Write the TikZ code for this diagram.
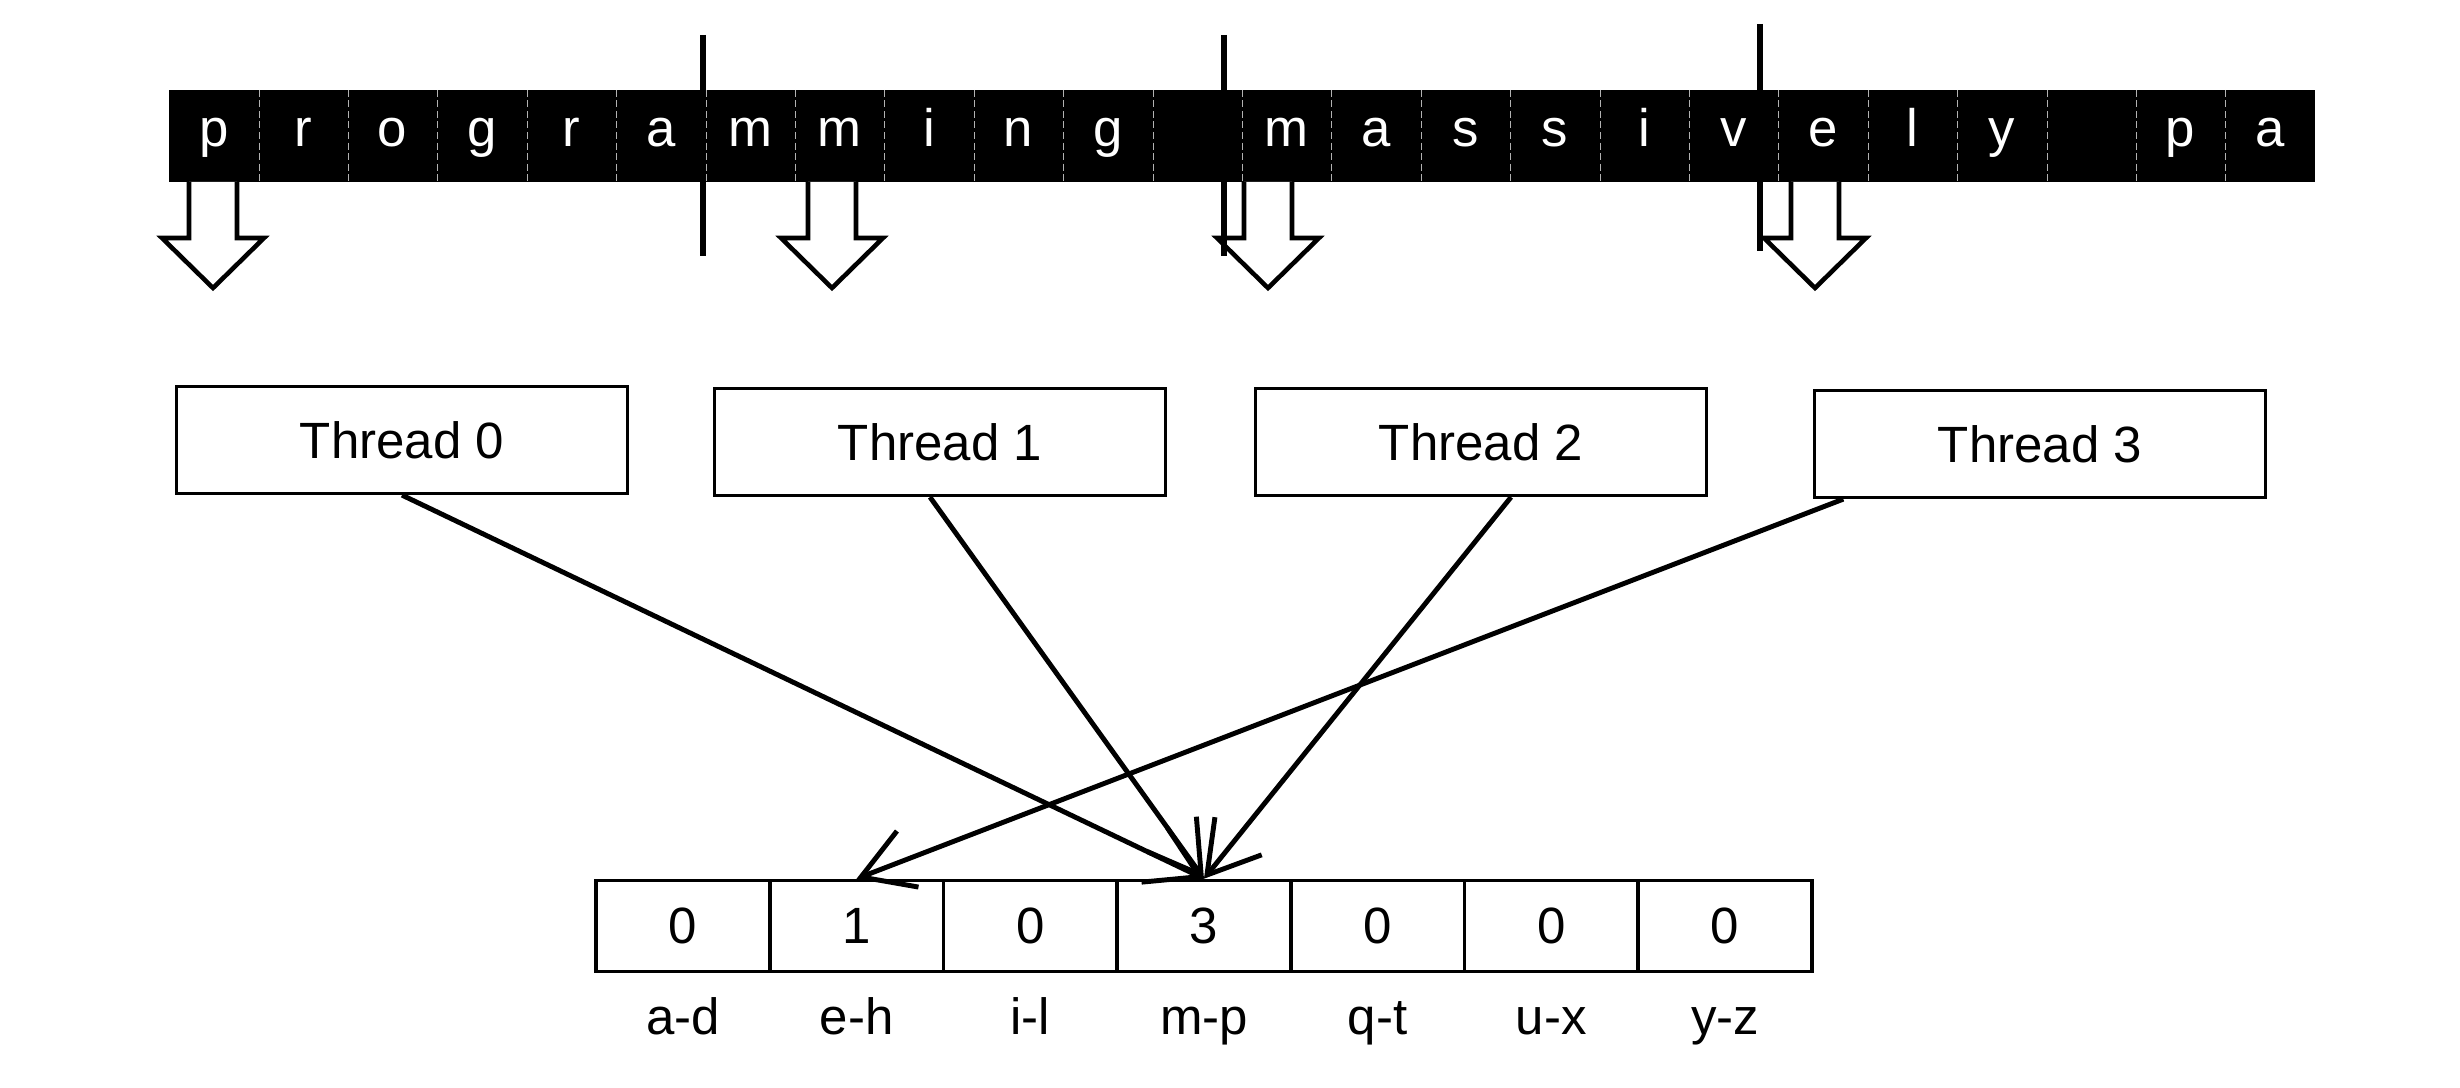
\documentclass[tikz,border=0pt]{standalone}
\usepackage{fontspec}
\setmainfont{Liberation Sans}
\usetikzlibrary{arrows.meta,positioning}

\begin{document}
\begin{tikzpicture}[x=0.01cm,y=-0.01cm,
    chr/.style={fill=black,text=white,minimum width=0.894cm,minimum height=0.91cm,
      inner sep=0pt,text height=1.6ex,text depth=0.45ex,font=\fontsize{15}{17}\selectfont},
    thread/.style={draw,line width=0.9pt,minimum width=4.5cm,minimum height=1.07cm,
      font=\fontsize{14.5}{17}\selectfont},
    count/.style={draw,line width=1pt,minimum width=1.737cm,minimum height=0.91cm,
      inner sep=0pt,font=\fontsize{14.5}{17}\selectfont},
    rangelabel/.style={inner sep=0pt,text height=1.8ex,text depth=0.5ex,font=\fontsize{14.5}{17}\selectfont},
    blockarrow/.style={draw,fill=white,line width=1.3pt,line join=miter},
    cut/.style={line width=1.8pt},
    hit/.style={line width=1.4pt,-{Straight Barb[length=0.5cm,width=0.6cm]}}]

\useasboundingbox (0,0) rectangle (2460,1088);

% input text
\foreach \l [count=\i from 0] in {p,r,o,g,r,a,m,m,i,n,g,{},m,a,s,s,i,v,e,l,y,{},p,a}
  \node[chr] (c\i) at (213.7+89.4*\i,136) {\l};
\foreach \i in {0,...,22}
  \draw[gray!60,line width=0.3pt,dash pattern=on 2pt off 1pt] (c\i.north east) -- (c\i.south east);

% block arrows under the text
\foreach \x in {213,832,1268,1815}
  \draw[blockarrow] (\x-24,182) -- (\x-24,238) -- (\x-51,238) -- (\x,288) -- (\x+51,238) -- (\x+24,238) -- (\x+24,182);

% section cuts
\foreach \x/\t/\b in {703/35/256,1224/35/256,1760/24/251}
  \draw[cut] (\x,\t) -- (\x,\b);

% threads
\node[thread] (t0) at (402,440) {Thread 0};
\node[thread] (t1) at (940,442) {Thread 1};
\node[thread] (t2) at (1481,442) {Thread 2};
\node[thread] (t3) at (2040,444) {Thread 3};

% histogram
\foreach \v/\r [count=\i from 0] in {0/a-d,1/e-h,0/i-l,3/m-p,0/q-t,0/u-x,0/y-z} {
  \node[count] (n\i) at (682.85+173.7*\i,926) {\v};
  \node[rangelabel,below=0.27cm of n\i] (r\i) {\r};
}

\draw[hit] (t0.south) -- (n3.north);
\draw[hit] ([xshift=-0.1cm]t1.south) -- (n3.north);
\draw[hit] ([xshift=0.3cm]t2.south) -- (n3.north);
\draw[hit] ([xshift=0.3cm]t3.south west) -- (n1.north);
\end{tikzpicture}
\end{document}
